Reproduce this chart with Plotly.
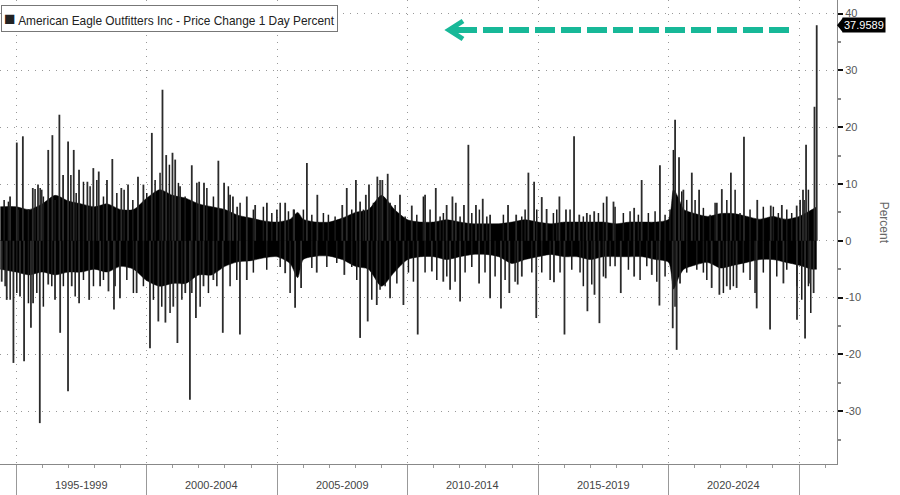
import pandas as pd
import plotly.graph_objects as go

# ---------------- data ----------------
band_dates = [
    "1994-05-25", "1995-01-01", "1995-07-01", "1996-01-01", "1996-07-01",
    "1997-01-01", "1997-07-01", "1998-01-01", "1998-07-01", "1999-01-01",
    "1999-07-01", "2000-01-01", "2000-07-01", "2001-01-01", "2001-07-01",
    "2002-01-01", "2002-07-01", "2003-01-01", "2003-07-01", "2004-01-01",
    "2004-07-01", "2005-01-01", "2005-07-01", "2005-10-15", "2006-01-01",
    "2006-07-01", "2007-01-01", "2007-07-01", "2008-01-01", "2008-07-01",
    "2009-01-01", "2009-07-01", "2010-01-01", "2010-07-01", "2011-01-01",
    "2011-07-01", "2012-01-01", "2012-07-01", "2013-01-01", "2013-07-01",
    "2014-01-01", "2014-07-01", "2015-01-01", "2015-07-01", "2016-01-01",
    "2016-07-01", "2017-01-01", "2017-07-01", "2018-01-01", "2018-07-01",
    "2019-01-01", "2019-07-01", "2020-01-01", "2020-03-10", "2020-05-20",
    "2020-08-01", "2021-01-01", "2021-07-01", "2022-01-01", "2022-07-01",
    "2023-01-01", "2023-07-01", "2024-01-01", "2024-07-01", "2025-01-01",
    "2025-07-01", "2025-09-04",
]
band_upper = [
    6, 6, 5.5, 6.5, 8,
    7, 6.5, 6, 6.5, 5.5,
    5.5, 7.5, 9, 8, 7.5,
    6.5, 6, 5.5, 4.5, 4,
    3.5, 3.3, 3.8, 5, 3.8,
    3.3, 3.3, 4, 5, 5.5,
    8, 5.5, 3.7, 3.3, 3.3,
    3.7, 3.3, 3, 3, 3,
    3.3, 3.7, 3.3, 3, 3.3,
    3.3, 3.3, 3.3, 3, 3.3,
    3.3, 3.3, 3.8, 9, 7.5,
    5.5, 4.8, 4.3, 4.8, 4.8,
    4.3, 3.8, 4.3, 3.8, 4.3,
    5.5, 6,
]
band_lower = [
    -5, -5.5, -6, -5.5, -6,
    -5.5, -5.5, -5, -5.5, -4.5,
    -5, -7, -8, -7.5, -7.5,
    -6, -6, -4.5, -3.7, -3.5,
    -3, -2.8, -4, -6.5, -3.3,
    -2.7, -2.7, -3.3, -4.5, -5,
    -8, -5.5, -3.3, -2.8, -2.8,
    -3.3, -2.8, -2.4, -2.4, -2.8,
    -4, -3.3, -2.8, -2.4, -2.8,
    -2.8, -3.3, -2.8, -2.8, -2.8,
    -2.8, -3.3, -3.8, -8.5, -6.5,
    -5, -4.3, -3.8, -4.8, -4.3,
    -3.8, -3.3, -3.3, -3.8, -4.3,
    -5, -5,
]

# large daily moves (dates) -------------------------------------------
up_dates = [
    "1994-10-08", "1995-01-10", "1995-04-05", "1995-08-22", "1995-11-03", "1995-12-24",
    "1996-03-25", "1996-05-22", "1996-08-28", "1996-10-19", "1996-12-28", "1997-03-17",
    "1997-05-30", "1997-09-24", "1997-12-16", "1998-03-02", "1998-06-25", "1998-09-08",
    "1999-01-12", "1999-04-16", "1999-09-02", "1999-11-17", "2000-03-14", "2000-08-10",
    "2000-10-01", "2000-12-28", "2001-02-04", "2001-04-13", "2001-09-24", "2002-01-05",
    "2002-03-14", "2002-10-01", "2002-12-20", "2003-03-14", "2003-04-23", "2003-06-21",
    "2003-11-03", "2004-02-28", "2004-08-10", "2004-12-28", "2005-04-23", "2005-08-26",
    "2006-02-21", "2006-07-17", "2007-07-01", "2007-09-02", "2008-01-08", "2008-03-07",
    "2008-05-26", "2008-07-09", "2008-11-03", "2009-01-12", "2009-03-28", "2009-09-16",
    "2010-02-28", "2010-09-02", "2011-01-30", "2011-07-01", "2011-09-20", "2011-11-06",
    "2012-02-28", "2012-04-30", "2012-08-14", "2012-11-17", "2013-02-28", "2013-11-06",
    "2014-02-28", "2014-08-18", "2014-11-06", "2015-02-21", "2015-04-30", "2015-10-26",
    "2016-01-26", "2016-05-18", "2016-07-30", "2016-11-13", "2017-02-24", "2017-08-18",
    "2017-11-21", "2018-09-06", "2018-12-20", "2019-09-02", "2020-04-01", "2020-05-26",
    "2020-07-26", "2020-11-21", "2021-03-03", "2021-11-06", "2022-01-15", "2022-05-22",
    "2022-11-21", "2023-05-26", "2023-12-01", "2024-05-04", "2024-11-28", "2025-01-15",
    "2025-02-24", "2025-04-08", "2025-08-04", "2025-09-04",
]
up_values = [
    7.8, 17.3, 18.4, 9.3, 9.9, 9.0,
    16.0, 18.6, 22.2, 11.6, 17.5, 16.0,
    12.5, 10.4, 12.8, 12.2, 10.7, 14.4,
    9.3, 9.9, 11.3, 9.9, 19.0, 26.6,
    15.1, 15.5, 14.3, 9.6, 13.3, 10.4,
    10.2, 14.1, 10.2, 8.1, 7.8, 6.0,
    7.8, 6.3, 6.7, 5.5, 6.7, 5.5,
    13.7, 8.1, 6.3, 9.3, 10.7, 6.9,
    8.1, 9.9, 11.3, 10.7, 11.8, 8.1,
    6.2, 8.1, 9.3, 6.3, 7.8, 6.7,
    6.3, 16.9, 6.3, 7.4, 4.6, 6.3,
    4.6, 12.0, 10.4, 7.7, 5.6, 7.8,
    5.5, 18.4, 4.6, 4.9, 5.2, 7.8,
    6.9, 5.8, 10.7, 13.3, 21.3, 14.7,
    9.0, 12.0, 9.0, 6.7, 9.1, 12.0,
    18.3, 7.2, 6.2, 6.3, 6.2, 7.2,
    9.0, 16.9, 23.6, 37.9589,
]

down_dates = [
    "1994-06-13", "1994-08-22", "1994-11-24", "1995-02-24", "1995-04-22", "1995-07-27",
    "1995-08-26", "1995-11-28", "1996-03-25", "1996-06-28", "1996-09-08", "1996-12-27",
    "1997-02-17", "1997-05-31", "1997-10-19", "1998-03-21", "1998-07-16", "1998-10-01",
    "1998-12-24", "1999-08-14", "2000-02-17", "2000-06-13", "2000-09-20", "2001-01-08",
    "2001-03-07", "2001-06-25", "2001-08-29", "2001-11-21", "2002-03-07", "2002-07-23",
    "2002-12-02", "2003-07-30", "2003-11-03", "2005-04-23", "2005-09-09", "2005-12-02",
    "2006-07-09", "2007-07-30", "2008-03-07", "2008-06-21", "2008-10-26", "2009-04-30",
    "2009-11-03", "2010-05-22", "2010-12-06", "2011-05-15", "2011-08-18", "2012-01-05",
    "2012-09-27", "2013-02-28", "2013-07-30", "2013-11-24", "2014-03-21", "2014-05-18",
    "2014-12-06", "2015-08-11", "2016-01-05", "2016-11-21", "2017-02-28", "2017-05-08",
    "2017-08-04", "2018-03-03", "2018-09-06", "2019-05-11", "2019-08-26", "2020-02-28",
    "2020-04-23", "2020-06-09", "2021-08-26", "2021-12-12", "2022-03-25", "2022-08-10",
    "2023-05-18", "2023-11-21", "2024-05-26", "2024-12-02", "2025-03-25", "2025-06-03",
    "2025-07-23",
]
down_values = [
    -7.2, -10.4, -21.5, -9.8, -21.2, -15.3,
    -11.0, -32.1, -7.7, -10.4, -16.2, -26.5,
    -8.0, -11.0, -10.4, -8.0, -8.9, -12.1,
    -10.1, -9.2, -18.9, -14.2, -14.4, -11.6,
    -18.0, -9.2, -28.0, -13.6, -8.0, -6.9,
    -16.2, -16.5, -6.9, -5.7, -11.8, -8.3,
    -5.6, -6.0, -17.1, -14.2, -11.3, -10.1,
    -11.3, -16.5, -5.4, -7.2, -8.6, -10.7,
    -7.5, -10.1, -11.9, -9.2, -7.7, -6.3,
    -13.6, -7.3, -16.5, -12.4, -9.5, -14.5,
    -6.6, -9.2, -6.3, -6.0, -11.4, -15.4,
    -19.2, -7.5, -8.3, -9.5, -8.0, -8.3,
    -11.9, -15.6, -7.5, -13.9, -17.2, -7.5,
    -9.2,
]

# medium daily moves along the edge of the dense band (decimal years) -------
mid_up_years = [
    1994.540, 1994.705, 1995.088, 1995.471, 1995.728, 1995.920, 1996.046, 1996.494,
    1997.096, 1997.299, 1997.579, 1997.835, 1998.092, 1998.345, 1998.858, 1999.138,
    1999.471, 2000.008, 2000.326, 2000.517, 2000.874, 2001.218, 2001.475, 2001.923,
    2002.307, 2002.559, 2003.134, 2003.582, 2004.092, 2004.475, 2004.797, 2005.115,
    2005.433, 2005.625, 2006.008, 2006.330, 2006.774, 2006.966, 2007.222, 2007.862,
    2008.307, 2008.690, 2008.946, 2009.330, 2009.521, 2009.904, 2010.352, 2010.605,
    2010.862, 2011.245, 2011.372, 2012.011, 2012.460, 2012.751, 2013.034, 2013.670,
    2014.375, 2014.502, 2014.950, 2015.586, 2015.716, 2016.226, 2016.736, 2016.992,
    2017.310, 2017.502, 2017.950, 2018.268, 2018.525, 2018.843, 2019.226, 2019.483,
    2019.866, 2020.057, 2020.184, 2020.506, 2020.697, 2021.015, 2021.333, 2021.590,
    2021.782, 2022.230, 2022.548, 2022.739, 2023.123, 2023.632, 2024.015, 2024.207,
    2024.529, 2024.720, 2025.192, 2025.356,
]
mid_up_values = [
    7.2, 6.9, 5.5, 5.5, 9.1, 9.3, 7.8, 7.2,
    11.6, 8.4, 10.4, 9.6, 10.7, 7.8, 8.4, 9.0,
    7.2, 8.4, 10.7, 12.0, 13.4, 10.2, 7.8, 10.2,
    9.3, 7.8, 9.6, 6.7, 5.5, 6.0, 4.9, 6.7,
    5.2, 5.5, 5.5, 4.6, 4.9, 4.6, 4.3, 5.5,
    5.5, 6.7, 10.7, 6.7, 6.3, 4.3, 4.6, 7.8,
    5.5, 4.3, 4.9, 4.3, 4.9, 5.5, 4.3, 4.6,
    4.3, 5.5, 5.5, 4.9, 5.5, 5.5, 4.3, 4.6,
    4.9, 6.7, 6.0, 4.9, 5.2, 4.6, 4.9, 5.2,
    4.6, 5.5, 16.0, 8.7, 7.2, 7.2, 5.8, 4.6,
    6.7, 7.2, 9.0, 4.9, 5.5, 6.0, 6.0, 4.9,
    5.5, 4.9, 7.2, 9.0,
]
mid_down_years = [
    1994.579, 1994.770, 1995.027, 1995.471, 1995.793, 1996.046, 1996.368, 1996.812,
    1997.261, 1997.579, 1997.962, 1998.345, 1998.793, 1999.241, 1999.494, 1999.877,
    2000.261, 2000.582, 2000.900, 2001.349, 2001.732, 2002.050, 2002.368, 2002.690,
    2003.199, 2003.456, 2004.092, 2004.605, 2005.115, 2005.498, 2006.330, 2006.904,
    2007.287, 2007.862, 2008.054, 2008.628, 2008.946, 2009.138, 2009.586, 2010.031,
    2010.222, 2010.670, 2011.119, 2011.502, 2011.820, 2012.203, 2012.460, 2012.969,
    2013.352, 2013.736, 2014.119, 2014.759, 2015.142, 2015.460, 2015.843, 2016.291,
    2016.609, 2016.736, 2017.057, 2017.502, 2017.759, 2017.950, 2018.460, 2018.908,
    2019.165, 2019.548, 2019.866, 2020.249, 2020.697, 2021.080, 2021.333, 2021.464,
    2022.100, 2022.356, 2022.483, 2022.866, 2023.123, 2023.314, 2023.632, 2024.146,
    2024.529, 2024.912, 2025.103, 2025.356, 2025.448,
]
mid_down_values = [
    -8.0, -10.4, -9.2, -11.0, -9.2, -11.6, -8.0, -8.0,
    -9.8, -6.9, -8.0, -6.9, -8.0, -6.9, -9.2, -8.0,
    -10.4, -11.6, -12.7, -10.4, -9.2, -11.6, -9.2, -8.0,
    -8.0, -6.9, -5.6, -5.1, -4.6, -9.2, -4.8, -4.6,
    -3.9, -4.6, -6.9, -10.4, -8.6, -8.0, -7.5, -5.6,
    -7.2, -5.6, -6.9, -6.3, -7.2, -5.6, -4.6, -5.6,
    -6.3, -6.9, -7.2, -5.6, -5.6, -6.9, -5.6, -5.1,
    -5.6, -8.0, -7.7, -6.3, -4.5, -4.5, -5.1, -6.9,
    -4.5, -7.2, -6.3, -11.6, -5.6, -5.1, -5.6, -6.9,
    -9.2, -8.6, -8.0, -5.6, -6.9, -9.2, -5.6, -6.3,
    -5.1, -8.0, -10.4, -8.0, -12.7,
]

period_mid_dates = ["1997-07-02", "2002-07-02", "2007-07-02", "2012-07-02", "2017-07-02", "2022-07-02"]
period_labels = ["1995-1999", "2000-2004", "2005-2009", "2010-2014", "2015-2019", "2020-2024"]
period_edges = ["1995-01-01", "2000-01-01", "2005-01-01", "2010-01-01",
                "2015-01-01", "2020-01-01", "2025-01-01"]
y_ticks = [-30, -20, -10, 0, 10, 20, 30, 40]
y_minor = [-35, -25, -15, -5, 5, 15, 25, 35]
series_name = "American Eagle Outfitters Inc - Price Change 1 Day Percent"
last_value = up_values[-1]


def year_to_date(y):
    yr = int(y)
    start = pd.Timestamp(f"{yr}-01-01")
    return (start + pd.Timedelta(days=(y - yr) * 365.25)).strftime("%Y-%m-%d")


# ---------------- figure ----------------
FONT = "Liberation Sans"
GRID_DASH = "1px,6px"
fig = go.Figure()

# dense core band of daily changes
fig.add_trace(go.Scatter(x=band_dates, y=band_lower, mode="lines",
                         line=dict(width=0.5, color="#000", shape="spline", smoothing=0.7),
                         showlegend=False, hoverinfo="skip"))
fig.add_trace(go.Scatter(x=band_dates, y=band_upper, mode="lines",
                         line=dict(width=0.5, color="#000", shape="spline", smoothing=0.7),
                         fill="tonexty", fillcolor="#000", showlegend=False, hoverinfo="skip"))


def spike_xy(dates, values):
    xs, ys = [], []
    for d, v in zip(dates, values):
        xs += [d, d, None]
        ys += [0, v, None]
    return xs, ys


# medium moves
mx, my = spike_xy([year_to_date(y) for y in mid_up_years] + [year_to_date(y) for y in mid_down_years],
                  mid_up_values + mid_down_values)
fig.add_trace(go.Scatter(x=mx, y=my, mode="lines", line=dict(width=1.5, color="#1a1a1a"),
                         showlegend=False, hoverinfo="skip"))

# large moves
sx, sy = spike_xy(up_dates + down_dates, up_values + down_values)
fig.add_trace(go.Scatter(x=sx, y=sy, mode="lines", line=dict(width=1.8, color="#2b2b2b"),
                         showlegend=False, hoverinfo="skip"))

# period labels below the axis
for d, t in zip(period_mid_dates, period_labels):
    fig.add_annotation(x=d, xref="x", y=-0.046, yref="paper", text=t,
                       showarrow=False, font=dict(family=FONT, size=11, color="#444"),
                       yanchor="middle")

# legend box
fig.add_annotation(x=0.001, xref="paper", y=0.99, yref="paper",
                   xanchor="left", yanchor="top",
                   text='<span style="font-size:19px">■</span> ' + series_name,
                   showarrow=False, bgcolor="white", bordercolor="#777",
                   borderwidth=1, borderpad=2,
                   font=dict(family=FONT, size=11.9, color="#222"))

# last value tag
fig.add_annotation(x=1, xref="paper", xanchor="left", xshift=5,
                   y=last_value, yref="y", text=f"{last_value:.4f}",
                   showarrow=False, bgcolor="#000", borderpad=1,
                   font=dict(family=FONT, size=11, color="white"))
fig.add_shape(type="path", xref="paper", yref="y",
              path=f"M 1.0,{last_value} L 1.0072,{last_value + 1.3} L 1.0072,{last_value - 1.3} Z",
              fillcolor="#000", line=dict(width=0))

# axis title
fig.add_annotation(x=1.067, xref="paper", y=0.52, yref="paper", text="Percent",
                   textangle=90, showarrow=False,
                   font=dict(family=FONT, size=12, color="#666"))

# teal dashed arrow
TEAL = "#17b898"
fig.add_shape(type="line", xref="paper", yref="paper",
              x0=789 / 837, x1=455 / 837, y0=1 - 30 / 464, y1=1 - 30 / 464,
              line=dict(color=TEAL, width=6, dash="20px,6px"))
fig.add_shape(type="path", xref="paper", yref="paper",
              path=f"M {463/837},{1-21/464} L {449/837},{1-30/464} L {463/837},{1-39/464}",
              line=dict(color=TEAL, width=5))
fig.add_shape(type="line", xref="paper", yref="paper",
              x0=450 / 837, x1=470 / 837, y0=1 - 30 / 464, y1=1 - 30 / 464,
              line=dict(color=TEAL, width=6))

fig.update_layout(
    width=900, height=495,
    margin=dict(l=0, r=63, t=0, b=31),
    paper_bgcolor="white", plot_bgcolor="white",
    showlegend=False,
    xaxis=dict(
        type="date", range=["1994-05-20", "2026-06-15"],
        tickvals=period_edges, showticklabels=False,
        ticks="outside", ticklen=31, tickcolor="#999", tickwidth=1,
        showgrid=True, gridcolor="#999", griddash=GRID_DASH, gridwidth=1,
        showline=True, linecolor="#888", linewidth=1, zeroline=False,
        minor=dict(dtick="M12", tick0="1995-01-01", ticks="outside",
                   ticklen=3, tickcolor="#999", showgrid=False),
    ),
    yaxis=dict(
        side="right", range=[-39.3, 42.4],
        tickvals=y_ticks, ticktext=[str(v) for v in y_ticks],
        ticks="outside", ticklen=5, tickwidth=2, tickcolor="#111",
        showgrid=True, gridcolor="#999", griddash=GRID_DASH, gridwidth=1,
        showline=True, linecolor="#888", linewidth=1, zeroline=False,
        tickfont=dict(family=FONT, size=11, color="#555"),
        minor=dict(tickvals=y_minor, ticks="outside", ticklen=3,
                   tickcolor="#888", showgrid=False),
    ),
)

fig.write_html("out.html", config={"displayModeBar": False},
               post_script="document.body.style.margin='0';document.body.style.overflow='hidden';")
